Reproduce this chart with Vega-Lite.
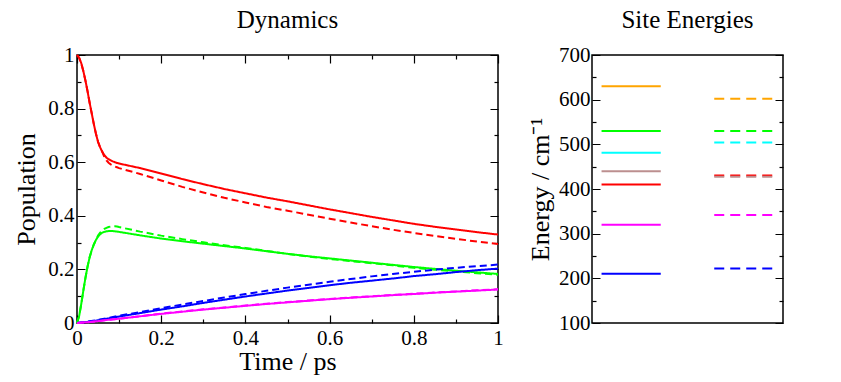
{
"$schema": "https://vega.github.io/schema/vega-lite/v6.json",
"padding": {"left": 13, "top": 7, "right": 5, "bottom": 5},
"spacing": 22,
"resolve": {"scale": {"color": "independent", "strokeDash": "independent", "x": "independent", "y": "independent"}},
"config": {
  "font": "Liberation Serif, Times New Roman, serif",
  "view": {"stroke": "black", "strokeWidth": 1.5},
  "axis": {"domain": false, "grid": false, "ticks": true, "zindex": 1, "labelFont": "Liberation Serif, Times New Roman, serif", "labelFontSize": 21, "labelColor": "black", "titleFont": "Liberation Serif, Times New Roman, serif", "titleFontSize": 26, "titleFontWeight": "normal", "titleColor": "black", "tickColor": "#000000", "tickWidth": 1.2, "tickSize": -8, "tickOpacity": 1},
  "title": {"font": "Liberation Serif, Times New Roman, serif", "fontSize": 25, "fontWeight": "normal", "color": "black", "frame": "group", "anchor": "middle"}
},
"hconcat": [
{
  "width": 421, "height": 268,
  "title": {"text": "Dynamics", "baseline": "alphabetic", "offset": -9},
  "data": {"values": [
{"k":"r","t":0,"v":1.0},{"k":"r","t":0.005,"v":0.99},{"k":"r","t":0.01,"v":0.97},{"k":"r","t":0.015,"v":0.94},{"k":"r","t":0.02,"v":0.905},{"k":"r","t":0.025,"v":0.865},{"k":"r","t":0.03,"v":0.822},{"k":"r","t":0.035,"v":0.782},{"k":"r","t":0.04,"v":0.742},{"k":"r","t":0.045,"v":0.706},{"k":"r","t":0.05,"v":0.676},{"k":"r","t":0.055,"v":0.655},{"k":"r","t":0.06,"v":0.639},{"k":"r","t":0.065,"v":0.626},{"k":"r","t":0.07,"v":0.617},{"k":"r","t":0.075,"v":0.611},{"k":"r","t":0.08,"v":0.607},{"k":"r","t":0.085,"v":0.603},{"k":"r","t":0.09,"v":0.6},{"k":"r","t":0.095,"v":0.597},{"k":"r","t":0.1,"v":0.595},{"k":"r","t":0.15,"v":0.578},{"k":"r","t":0.2,"v":0.558},{"k":"r","t":0.25,"v":0.537},{"k":"r","t":0.3,"v":0.518},{"k":"r","t":0.35,"v":0.5},{"k":"r","t":0.4,"v":0.484},{"k":"r","t":0.45,"v":0.468},{"k":"r","t":0.5,"v":0.454},{"k":"r","t":0.55,"v":0.439},{"k":"r","t":0.6,"v":0.424},{"k":"r","t":0.65,"v":0.41},{"k":"r","t":0.7,"v":0.396},{"k":"r","t":0.75,"v":0.383},{"k":"r","t":0.8,"v":0.37},{"k":"r","t":0.85,"v":0.359},{"k":"r","t":0.9,"v":0.349},{"k":"r","t":0.95,"v":0.339},{"k":"r","t":1.0,"v":0.33},
{"k":"rd","t":0,"v":1.0},{"k":"rd","t":0.005,"v":0.99},{"k":"rd","t":0.01,"v":0.97},{"k":"rd","t":0.015,"v":0.94},{"k":"rd","t":0.02,"v":0.905},{"k":"rd","t":0.025,"v":0.865},{"k":"rd","t":0.03,"v":0.822},{"k":"rd","t":0.035,"v":0.782},{"k":"rd","t":0.04,"v":0.742},{"k":"rd","t":0.045,"v":0.706},{"k":"rd","t":0.05,"v":0.676},{"k":"rd","t":0.055,"v":0.655},{"k":"rd","t":0.06,"v":0.639},{"k":"rd","t":0.065,"v":0.62},{"k":"rd","t":0.07,"v":0.607},{"k":"rd","t":0.075,"v":0.598},{"k":"rd","t":0.08,"v":0.592},{"k":"rd","t":0.085,"v":0.588},{"k":"rd","t":0.09,"v":0.584},{"k":"rd","t":0.095,"v":0.581},{"k":"rd","t":0.1,"v":0.578},{"k":"rd","t":0.15,"v":0.556},{"k":"rd","t":0.2,"v":0.532},{"k":"rd","t":0.25,"v":0.508},{"k":"rd","t":0.3,"v":0.487},{"k":"rd","t":0.35,"v":0.467},{"k":"rd","t":0.4,"v":0.45},{"k":"rd","t":0.45,"v":0.433},{"k":"rd","t":0.5,"v":0.419},{"k":"rd","t":0.55,"v":0.404},{"k":"rd","t":0.6,"v":0.389},{"k":"rd","t":0.65,"v":0.375},{"k":"rd","t":0.7,"v":0.361},{"k":"rd","t":0.75,"v":0.348},{"k":"rd","t":0.8,"v":0.336},{"k":"rd","t":0.85,"v":0.325},{"k":"rd","t":0.9,"v":0.314},{"k":"rd","t":0.95,"v":0.304},{"k":"rd","t":1.0,"v":0.295},
{"k":"g","t":0,"v":0},{"k":"g","t":0.005,"v":0.025},{"k":"g","t":0.01,"v":0.07},{"k":"g","t":0.015,"v":0.12},{"k":"g","t":0.02,"v":0.168},{"k":"g","t":0.025,"v":0.21},{"k":"g","t":0.03,"v":0.245},{"k":"g","t":0.035,"v":0.272},{"k":"g","t":0.04,"v":0.293},{"k":"g","t":0.045,"v":0.31},{"k":"g","t":0.05,"v":0.322},{"k":"g","t":0.055,"v":0.331},{"k":"g","t":0.06,"v":0.337},{"k":"g","t":0.065,"v":0.34},{"k":"g","t":0.07,"v":0.342},{"k":"g","t":0.075,"v":0.343},{"k":"g","t":0.08,"v":0.343},{"k":"g","t":0.085,"v":0.343},{"k":"g","t":0.09,"v":0.342},{"k":"g","t":0.095,"v":0.341},{"k":"g","t":0.1,"v":0.34},{"k":"g","t":0.15,"v":0.327},{"k":"g","t":0.2,"v":0.315},{"k":"g","t":0.25,"v":0.305},{"k":"g","t":0.3,"v":0.296},{"k":"g","t":0.35,"v":0.287},{"k":"g","t":0.4,"v":0.278},{"k":"g","t":0.45,"v":0.268},{"k":"g","t":0.5,"v":0.258},{"k":"g","t":0.55,"v":0.249},{"k":"g","t":0.6,"v":0.241},{"k":"g","t":0.65,"v":0.233},{"k":"g","t":0.7,"v":0.225},{"k":"g","t":0.75,"v":0.217},{"k":"g","t":0.8,"v":0.209},{"k":"g","t":0.85,"v":0.202},{"k":"g","t":0.9,"v":0.195},{"k":"g","t":0.95,"v":0.189},{"k":"g","t":1.0,"v":0.183},
{"k":"gd","t":0,"v":0},{"k":"gd","t":0.005,"v":0.025},{"k":"gd","t":0.01,"v":0.07},{"k":"gd","t":0.015,"v":0.12},{"k":"gd","t":0.02,"v":0.168},{"k":"gd","t":0.025,"v":0.21},{"k":"gd","t":0.03,"v":0.245},{"k":"gd","t":0.035,"v":0.272},{"k":"gd","t":0.04,"v":0.293},{"k":"gd","t":0.045,"v":0.31},{"k":"gd","t":0.05,"v":0.326},{"k":"gd","t":0.055,"v":0.337},{"k":"gd","t":0.06,"v":0.345},{"k":"gd","t":0.065,"v":0.351},{"k":"gd","t":0.07,"v":0.355},{"k":"gd","t":0.075,"v":0.358},{"k":"gd","t":0.08,"v":0.36},{"k":"gd","t":0.085,"v":0.361},{"k":"gd","t":0.09,"v":0.361},{"k":"gd","t":0.095,"v":0.36},{"k":"gd","t":0.1,"v":0.358},{"k":"gd","t":0.15,"v":0.341},{"k":"gd","t":0.2,"v":0.326},{"k":"gd","t":0.25,"v":0.313},{"k":"gd","t":0.3,"v":0.301},{"k":"gd","t":0.35,"v":0.29},{"k":"gd","t":0.4,"v":0.28},{"k":"gd","t":0.45,"v":0.269},{"k":"gd","t":0.5,"v":0.258},{"k":"gd","t":0.55,"v":0.248},{"k":"gd","t":0.6,"v":0.239},{"k":"gd","t":0.65,"v":0.231},{"k":"gd","t":0.7,"v":0.223},{"k":"gd","t":0.75,"v":0.215},{"k":"gd","t":0.8,"v":0.206},{"k":"gd","t":0.85,"v":0.199},{"k":"gd","t":0.9,"v":0.192},{"k":"gd","t":0.95,"v":0.186},{"k":"gd","t":1.0,"v":0.18},
{"k":"b","t":0,"v":0},{"k":"b","t":0.025,"v":0.004},{"k":"b","t":0.05,"v":0.01},{"k":"b","t":0.075,"v":0.017},{"k":"b","t":0.1,"v":0.024},{"k":"b","t":0.15,"v":0.037},{"k":"b","t":0.2,"v":0.05},{"k":"b","t":0.25,"v":0.062},{"k":"b","t":0.3,"v":0.075},{"k":"b","t":0.35,"v":0.087},{"k":"b","t":0.4,"v":0.099},{"k":"b","t":0.45,"v":0.11},{"k":"b","t":0.5,"v":0.121},{"k":"b","t":0.55,"v":0.131},{"k":"b","t":0.6,"v":0.141},{"k":"b","t":0.65,"v":0.15},{"k":"b","t":0.7,"v":0.158},{"k":"b","t":0.75,"v":0.166},{"k":"b","t":0.8,"v":0.175},{"k":"b","t":0.85,"v":0.182},{"k":"b","t":0.9,"v":0.19},{"k":"b","t":0.95,"v":0.197},{"k":"b","t":1.0,"v":0.203},
{"k":"bd","t":0,"v":0},{"k":"bd","t":0.025,"v":0.005},{"k":"bd","t":0.05,"v":0.012},{"k":"bd","t":0.075,"v":0.019},{"k":"bd","t":0.1,"v":0.027},{"k":"bd","t":0.15,"v":0.041},{"k":"bd","t":0.2,"v":0.055},{"k":"bd","t":0.25,"v":0.069},{"k":"bd","t":0.3,"v":0.082},{"k":"bd","t":0.35,"v":0.095},{"k":"bd","t":0.4,"v":0.108},{"k":"bd","t":0.45,"v":0.12},{"k":"bd","t":0.5,"v":0.132},{"k":"bd","t":0.55,"v":0.143},{"k":"bd","t":0.6,"v":0.154},{"k":"bd","t":0.65,"v":0.164},{"k":"bd","t":0.7,"v":0.174},{"k":"bd","t":0.75,"v":0.183},{"k":"bd","t":0.8,"v":0.191},{"k":"bd","t":0.85,"v":0.199},{"k":"bd","t":0.9,"v":0.206},{"k":"bd","t":0.95,"v":0.212},{"k":"bd","t":1.0,"v":0.218},
{"k":"m","t":0,"v":0},{"k":"m","t":0.025,"v":0.003},{"k":"m","t":0.05,"v":0.007},{"k":"m","t":0.075,"v":0.012},{"k":"m","t":0.1,"v":0.016},{"k":"m","t":0.15,"v":0.025},{"k":"m","t":0.2,"v":0.034},{"k":"m","t":0.25,"v":0.042},{"k":"m","t":0.3,"v":0.05},{"k":"m","t":0.35,"v":0.057},{"k":"m","t":0.4,"v":0.064},{"k":"m","t":0.45,"v":0.071},{"k":"m","t":0.5,"v":0.077},{"k":"m","t":0.55,"v":0.083},{"k":"m","t":0.6,"v":0.089},{"k":"m","t":0.65,"v":0.094},{"k":"m","t":0.7,"v":0.099},{"k":"m","t":0.75,"v":0.104},{"k":"m","t":0.8,"v":0.108},{"k":"m","t":0.85,"v":0.113},{"k":"m","t":0.9,"v":0.117},{"k":"m","t":0.95,"v":0.121},{"k":"m","t":1.0,"v":0.125},
{"k":"md","t":0,"v":0},{"k":"md","t":0.025,"v":0.003},{"k":"md","t":0.05,"v":0.007},{"k":"md","t":0.075,"v":0.012},{"k":"md","t":0.1,"v":0.016},{"k":"md","t":0.15,"v":0.025},{"k":"md","t":0.2,"v":0.035},{"k":"md","t":0.25,"v":0.043},{"k":"md","t":0.3,"v":0.051},{"k":"md","t":0.35,"v":0.058},{"k":"md","t":0.4,"v":0.065},{"k":"md","t":0.45,"v":0.072},{"k":"md","t":0.5,"v":0.078},{"k":"md","t":0.55,"v":0.084},{"k":"md","t":0.6,"v":0.09},{"k":"md","t":0.65,"v":0.095},{"k":"md","t":0.7,"v":0.1},{"k":"md","t":0.75,"v":0.105},{"k":"md","t":0.8,"v":0.109},{"k":"md","t":0.85,"v":0.114},{"k":"md","t":0.9,"v":0.118},{"k":"md","t":0.95,"v":0.122},{"k":"md","t":1.0,"v":0.126}
  ]},
  "layer": [
    {
      "mark": {"type": "line", "strokeWidth": 2},
      "encoding": {
        "x": {"field": "t", "type": "quantitative", "scale": {"domain": [0, 1], "nice": false},
          "axis": {"orient": "bottom", "title": "Time / ps", "values": [0,0.1,0.2,0.3,0.4,0.5,0.6,0.7,0.8,0.9,1], "format": "~g",
            "labelExpr": "round(datum.value*10)%2==0 ? datum.label : ''",
            "tickDash": {"condition": {"test": "round(datum.value*10)%2==1", "value": [4, 30]}, "value": [1, 0]},
            "labelPadding": 12, "titlePadding": 0, "labelFlush": false}},
        "y": {"field": "v", "type": "quantitative", "scale": {"domain": [0, 1], "nice": false},
          "axis": {"orient": "left", "title": "Population", "values": [0,0.1,0.2,0.3,0.4,0.5,0.6,0.7,0.8,0.9,1], "format": "~g",
            "labelExpr": "round(datum.value*10)%2==0 ? datum.label : ''",
            "tickDash": {"condition": {"test": "round(datum.value*10)%2==1", "value": [4, 30]}, "value": [1, 0]},
            "labelPadding": 11, "titlePadding": 8, "labelFlush": false}},
        "color": {"field": "k", "type": "nominal", "legend": null,
          "scale": {"domain": ["r","rd","g","gd","b","bd","m","md"], "range": ["#ff0000","#ff0000","#00ff00","#00ff00","#0000ff","#0000ff","#ff00ff","#ff00ff"]}},
        "strokeDash": {"field": "k", "type": "nominal", "legend": null,
          "scale": {"domain": ["r","rd","g","gd","b","bd","m","md"], "range": [[1,0],[7,4],[1,0],[7,4],[1,0],[7,4],[1,0],[7,4]]}}
      }
    },
    {
      "mark": {"type": "point", "opacity": 0},
      "encoding": {
        "x": {"field": "t", "type": "quantitative", "scale": {"domain": [0, 1], "nice": false},
          "axis": {"orient": "top", "title": null, "labels": false, "values": [0,0.1,0.2,0.3,0.4,0.5,0.6,0.7,0.8,0.9,1],
            "tickDash": {"condition": {"test": "round(datum.value*10)%2==1", "value": [4, 30]}, "value": [1, 0]}}},
        "y": {"field": "v", "type": "quantitative", "scale": {"domain": [0, 1], "nice": false},
          "axis": {"orient": "right", "title": null, "labels": false, "values": [0,0.1,0.2,0.3,0.4,0.5,0.6,0.7,0.8,0.9,1],
            "tickDash": {"condition": {"test": "round(datum.value*10)%2==1", "value": [4, 30]}, "value": [1, 0]}}}
      }
    }
  ],
  "resolve": {"axis": {"x": "independent", "y": "independent"}}
},
{
  "width": 191, "height": 268,
  "title": {"text": "Site Energies", "baseline": "alphabetic", "offset": -9},
  "data": {"values": [
    {"col": "solid", "site": "orange", "e": 630},
    {"col": "solid", "site": "green", "e": 530},
    {"col": "solid", "site": "cyan", "e": 481},
    {"col": "solid", "site": "brown", "e": 440},
    {"col": "solid", "site": "red", "e": 410},
    {"col": "solid", "site": "magenta", "e": 320},
    {"col": "solid", "site": "blue", "e": 210},
    {"col": "dashed", "site": "orange", "e": 602},
    {"col": "dashed", "site": "green", "e": 530},
    {"col": "dashed", "site": "cyan", "e": 504},
    {"col": "dashed", "site": "red", "e": 430.5},
    {"col": "dashed", "site": "brown", "e": 427.5},
    {"col": "dashed", "site": "magenta", "e": 342},
    {"col": "dashed", "site": "blue", "e": 222}
  ]},
  "layer": [
    {
      "transform": [{"filter": "datum.col == 'solid'"}],
      "mark": {"type": "rule", "strokeWidth": 2},
      "encoding": {
        "x": {"datum": 0.05, "type": "quantitative", "scale": {"domain": [0, 1], "nice": false}, "axis": null},
        "x2": {"datum": 0.36},
        "y": {"field": "e", "type": "quantitative", "scale": {"domain": [100, 700], "nice": false},
          "axis": {"orient": "left", "title": "Energy / cm⁻¹", "values": [100,150,200,250,300,350,400,450,500,550,600,650,700],
            "labelExpr": "datum.value % 100 == 0 ? datum.label : ''",
            "tickDash": {"condition": {"test": "datum.value % 100 != 0", "value": [4, 30]}, "value": [1, 0]},
            "labelPadding": 10, "titlePadding": 5, "labelFlush": false}},
        "color": {"field": "site", "type": "nominal", "legend": null,
          "scale": {"domain": ["orange","green","cyan","brown","red","magenta","blue"], "range": ["#ffa500","#00ff00","#00ffff","#bc8f8f","#ff0000","#ff00ff","#0000ff"]}}
      }
    },
    {
      "transform": [{"filter": "datum.col == 'dashed'"}],
      "mark": {"type": "rule", "strokeWidth": 2, "strokeDash": [10, 6]},
      "encoding": {
        "x": {"datum": 0.64, "type": "quantitative", "scale": {"domain": [0, 1], "nice": false}, "axis": null},
        "x2": {"datum": 0.95},
        "y": {"field": "e", "type": "quantitative", "scale": {"domain": [100, 700], "nice": false}, "axis": null},
        "color": {"field": "site", "type": "nominal", "legend": null,
          "scale": {"domain": ["orange","green","cyan","brown","red","magenta","blue"], "range": ["#ffa500","#00ff00","#00ffff","#bc8f8f","#ff0000","#ff00ff","#0000ff"]}}
      }
    },
    {
      "mark": {"type": "point", "opacity": 0},
      "encoding": {
        "y": {"field": "e", "type": "quantitative", "scale": {"domain": [100, 700], "nice": false},
          "axis": {"orient": "right", "title": null, "labels": false, "values": [100,150,200,250,300,350,400,450,500,550,600,650,700],
            "tickDash": {"condition": {"test": "datum.value % 100 != 0", "value": [4, 30]}, "value": [1, 0]}}}
      }
    }
  ],
  "resolve": {"axis": {"y": "independent"}}
}
]
}
